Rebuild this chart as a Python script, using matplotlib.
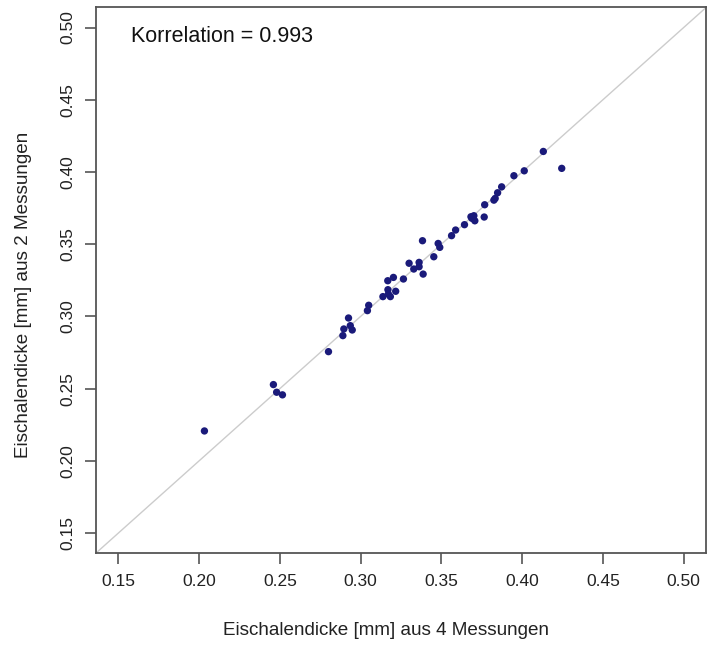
import numpy as np
import matplotlib
matplotlib.use("Agg")

import matplotlib.pyplot as plt

plt.rcParams["font.family"] = ["Liberation Sans", "DejaVu Sans"]

# Eischalendicke [mm]: 4 measurements (x) vs 2 measurements (y)
dicke_4 = [0.2033, 0.2460, 0.2480, 0.2516, 0.2801,
           0.2890, 0.2896, 0.2925, 0.2936, 0.2948,
           0.3050, 0.3042, 0.3168, 0.3203, 0.3265,
           0.3169, 0.3138, 0.3172, 0.3184, 0.3217,
           0.3383, 0.3300, 0.3329, 0.3362, 0.3362,
           0.3387, 0.3453, 0.3480, 0.3490, 0.3563,
           0.3588, 0.3643, 0.3683, 0.3701, 0.3689,
           0.3707, 0.3765, 0.3768, 0.3825, 0.3833,
           0.3848, 0.3873, 0.3949, 0.4013, 0.4131,
           0.4245]
dicke_2 = [0.2207, 0.2528, 0.2475, 0.2457, 0.2756,
           0.2867, 0.2913, 0.2989, 0.2936, 0.2906,
           0.3077, 0.3040, 0.3247, 0.3270, 0.3259,
           0.3185, 0.3137, 0.3155, 0.3137, 0.3174,
           0.3524, 0.3368, 0.3328, 0.3374, 0.3344,
           0.3293, 0.3413, 0.3505, 0.3478, 0.3559,
           0.3598, 0.3635, 0.3690, 0.3697, 0.3679,
           0.3662, 0.3688, 0.3773, 0.3805, 0.3817,
           0.3856, 0.3897, 0.3974, 0.4008, 0.4142,
           0.4025]

korrelation = 0.993
ticks = [0.15, 0.20, 0.25, 0.30, 0.35, 0.40, 0.45, 0.50]
lim = (0.136, 0.514)

fig = plt.figure(figsize=(7.07, 6.46), dpi=100)
ax = fig.add_axes([0.1354, 0.1435, 0.8636, 0.8452])

ax.axline((0, 0), slope=1, color="#cccccc", linewidth=1.0, zorder=1)

ax.scatter(dicke_4, dicke_2, s=28, color="#1a1a7a", edgecolors="none", zorder=3)

ax.set_xlim(lim)
ax.set_ylim(lim)

ax.set_xticks(ticks)
ax.set_yticks(ticks)
ax.set_xticklabels([f"{t:.2f}" for t in ticks])
ax.set_yticklabels([f"{t:.2f}" for t in ticks], rotation=90, va="center")

for s in ax.spines.values():
    s.set_color("#555555")
    s.set_linewidth(1.3)

ax.tick_params(direction="out", length=8, width=1.2, color="#555555",
               labelsize=12.5, labelcolor="#222222", pad=7)

# the original figure was cropped on top/right, so labels sit off-centre
ax.set_xlabel("Eischalendicke [mm] aus 4 Messungen", fontsize=13.6,
              color="#222222")
ax.set_ylabel("Eischalendicke [mm] aus 2 Messungen", fontsize=13.6,
              color="#222222")
ax.xaxis.set_label_coords(0.475, -0.125)
ax.yaxis.set_label_coords(-0.104, 0.473)

ax.text(0.158, 0.494, f"Korrelation = {korrelation}", fontsize=15.5,
        ha="left", va="center", color="#111111")

fig.savefig("out.png", dpi=100)
plt.close(fig)
